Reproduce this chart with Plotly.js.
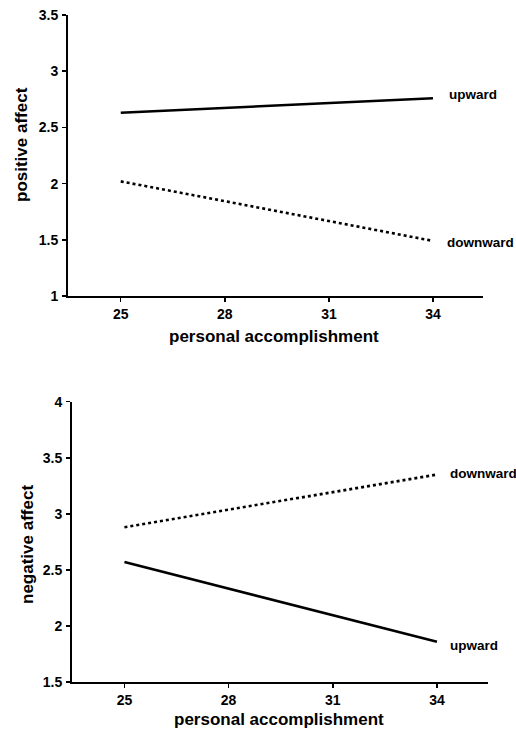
<!DOCTYPE html>
<html>
<head>
<meta charset="utf-8">
<script src="https://cdn.plot.ly/plotly-3.0.1.min.js"></script>
<style>html,body{margin:0;padding:0;background:#fff;}#chart{width:516px;height:732px;}</style>
</head>
<body>
<div id="chart"></div>
<script>
// Data
const xEnds = [25, 34];
const xTicks = [25, 28, 31, 34];
const posUpward = [2.63, 2.76];
const posDownward = [2.02, 1.49];
const negUpward = [2.57, 1.86];
const negDownward = [2.88, 3.35];
const seriesNames = ["upward", "downward"];
const xTitle = "personal accomplishment";
const yTitleTop = "positive affect";
const yTitleBottom = "negative affect";

const W = 516, H = 732;
const fam = "Liberation Sans, Arial, sans-serif";
const tickFont = {family: fam, size: 14, color: "#000", weight: 700};
const titleFont = {family: fam, size: 17, color: "#000", weight: 700};
const labelFont = {family: fam, size: 13.5, color: "#000", weight: 700};

function px(x) { return x / W; }
function py(y) { return 1 - y / H; }

const traces = [
  {x: xEnds, y: posUpward, xaxis: "x", yaxis: "y", mode: "lines", name: seriesNames[0],
   line: {color: "#000", width: 2.6, dash: "solid"}},
  {x: xEnds, y: posDownward, xaxis: "x", yaxis: "y", mode: "lines", name: seriesNames[1],
   line: {color: "#000", width: 2.6, dash: "dot"}},
  {x: xEnds, y: negDownward, xaxis: "x2", yaxis: "y2", mode: "lines", name: seriesNames[1],
   line: {color: "#000", width: 2.6, dash: "dot"}},
  {x: xEnds, y: negUpward, xaxis: "x2", yaxis: "y2", mode: "lines", name: seriesNames[0],
   line: {color: "#000", width: 2.6, dash: "solid"}}
];

const axCommon = {
  showgrid: false, zeroline: false, showline: true, linecolor: "#000", linewidth: 2,
  ticks: "outside", ticklen: 4, tickwidth: 1.5, tickcolor: "#000", tickfont: tickFont,
  fixedrange: true
};

function ann(text, x, y, angle, font) {
  return {text: text, xref: "paper", yref: "paper", x: px(x), y: py(y), textangle: angle || 0,
    xanchor: "center", yanchor: "middle", showarrow: false, font: font};
}
function lab(text, xr, yr, xv, yv, xs, ys) {
  return {text: text, xref: xr, yref: yr, x: xv, y: yv, xanchor: "left", yanchor: "middle",
    xshift: xs, yshift: ys, showarrow: false, font: labelFont};
}

const layout = {
  width: W, height: H,
  margin: {l: 0, r: 0, t: 0, b: 0},
  paper_bgcolor: "#fff", plot_bgcolor: "#fff",
  showlegend: false,
  xaxis: Object.assign({}, axCommon, {domain: [px(68), px(483)], range: [23.48, 35.44],
    tickvals: xTicks, anchor: "y", ticklabelstandoff: 0}),
  yaxis: Object.assign({}, axCommon, {domain: [py(296), py(15)], range: [1, 3.5],
    dtick: 0.5, tick0: 1, anchor: "x", ticklabelstandoff: 1}),
  xaxis2: Object.assign({}, axCommon, {domain: [px(72), px(488)], range: [23.49, 35.47],
    tickvals: xTicks, anchor: "y2", ticklabelstandoff: 0}),
  yaxis2: Object.assign({}, axCommon, {domain: [py(682), py(401.7)], range: [1.5, 4],
    dtick: 0.5, tick0: 1.5, anchor: "x2", ticklabelstandoff: 1}),
  annotations: [
    ann(xTitle, 274, 336.5, 0, titleFont),
    ann(xTitle, 279, 719, 0, titleFont),
    ann(yTitleTop, 21, 145, -90, titleFont),
    ann(yTitleBottom, 27, 545, -90, titleFont),
    lab(seriesNames[0], "x", "y", xEnds[1], posUpward[1], 14, 4),
    lab(seriesNames[1], "x", "y", xEnds[1], posDownward[1], 12, -2),
    lab(seriesNames[1], "x2", "y2", xEnds[1], negDownward[1], 11, 1),
    lab(seriesNames[0], "x2", "y2", xEnds[1], negUpward[1], 11, -4)
  ]
};

Plotly.newPlot("chart", traces, layout, {displayModeBar: false, staticPlot: true});
</script>
</body>
</html>
